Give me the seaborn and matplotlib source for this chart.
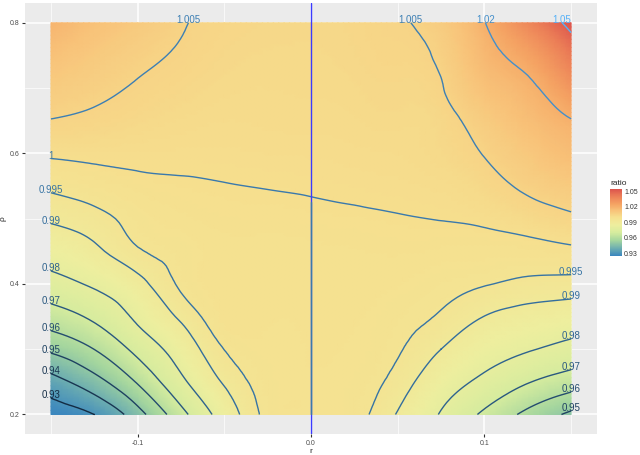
import matplotlib
matplotlib.use("Agg")
import matplotlib.pyplot as plt
import matplotlib.colors as mcolors
import matplotlib.tri as mtri
import seaborn as sns
import numpy as np

# grid: r across, rho down the rows
r_vals = [-0.15, -0.125, -0.1, -0.075, -0.05, -0.025, 0.0, 0.025, 0.05, 0.075, 0.1, 0.125, 0.15]
rho_vals = [0.2, 0.25, 0.3, 0.35, 0.4, 0.45, 0.5, 0.55, 0.6, 0.65, 0.7, 0.75, 0.8]

ratio_rho020 = [0.925, 0.930, 0.946, 0.9667, 0.9847, 0.9963, 0.9972, 0.9966, 0.9895, 0.9793, 0.9682, 0.9575, 0.948]
ratio_rho025 = [0.9362, 0.9461, 0.961, 0.9778, 0.9908, 0.9968, 0.9974, 0.997, 0.9931, 0.9848, 0.9778, 0.9706, 0.9649]
ratio_rho030 = [0.9519, 0.9601, 0.9729, 0.9848, 0.9951, 0.9972, 0.9976, 0.9974, 0.9955, 0.990, 0.9843, 0.9807, 0.977]
ratio_rho035 = [0.9654, 0.972, 0.9818, 0.9912, 0.9978, 0.9978, 0.9978, 0.9977, 0.9966, 0.9944, 0.9899, 0.9874, 0.9859]
ratio_rho040 = [0.9765, 0.9813, 0.9877, 0.9958, 0.9978, 0.9979, 0.998, 0.9981, 0.9976, 0.9965, 0.9953, 0.9938, 0.9932]
ratio_rho045 = [0.9845, 0.9885, 0.9944, 0.9968, 0.998, 0.9981, 0.9983, 0.9985, 0.9987, 0.9983, 0.9981, 0.9982, 0.999]
ratio_rho050 = [0.9909, 0.9933, 0.9967, 0.9982, 0.999, 0.9991, 0.9993, 0.9995, 0.9998, 1.0001, 1.0007, 1.0022, 1.004]
ratio_rho055 = [0.996, 0.9976, 0.999, 0.9996, 0.9999, 1.0001, 1.0003, 1.0006, 1.0009, 1.0013, 1.0029, 1.0062, 1.0091]
ratio_rho060 = [1.0007, 1.001, 1.001, 1.0009, 1.0009, 1.0011, 1.0012, 1.0014, 1.0016, 1.0025, 1.0053, 1.010, 1.0143]
ratio_rho065 = [1.0048, 1.0039, 1.0028, 1.002, 1.0016, 1.0017, 1.0018, 1.002, 1.0023, 1.003, 1.0082, 1.0139, 1.0195]
ratio_rho070 = [1.0085, 1.0065, 1.0045, 1.0032, 1.0023, 1.0021, 1.0022, 1.0025, 1.003, 1.0046, 1.0125, 1.0178, 1.0302]
ratio_rho075 = [1.0128, 1.0095, 1.0065, 1.0044, 1.003, 1.0025, 1.0025, 1.003, 1.0038, 1.0063, 1.0161, 1.0249, 1.0414]
ratio_rho080 = [1.018, 1.013, 1.0095, 1.0055, 1.0037, 1.003, 1.0028, 1.0033, 1.0045, 1.0085, 1.0196, 1.0362, 1.054]

levels = [0.93, 0.94, 0.95, 0.96, 0.97, 0.98, 0.99, 0.995, 1.0, 1.005, 1.02, 1.05]
bar_ticks = [0.93, 0.96, 0.99, 1.02, 1.05]

ratio = np.array([ratio_rho020, ratio_rho025, ratio_rho030, ratio_rho035, ratio_rho040,
                  ratio_rho045, ratio_rho050, ratio_rho055, ratio_rho060, ratio_rho065,
                  ratio_rho070, ratio_rho075, ratio_rho080])

sns.set_theme(style="darkgrid", rc={"axes.facecolor": "#EBEBEB", "grid.color": "white"})
plt.rcParams["font.family"] = ["Liberation Sans", "DejaVu Sans"]

fig = plt.figure(figsize=(6.4, 4.55), dpi=100)
ax = fig.add_axes([0.039, 0.046, 0.894, 0.947])

vmin, vmax = ratio.min(), ratio.max()
# spectral-like fill, anchored on ratio values
fill_nodes = [(0.925, "#3A86BE"), (0.94, "#6EAFB0"), (0.955, "#A5D69E"), (0.97, "#D6EC9E"),
              (0.985, "#EEEE9E"), (1.0, "#F6DF8E"), (1.012, "#F8C47A"), (1.025, "#F5A363"),
              (1.04, "#EC7F57"), (1.054, "#DC544D")]
fill_cmap = mcolors.LinearSegmentedColormap.from_list(
    "ratio", [((v - vmin) / (vmax - vmin), c) for v, c in fill_nodes])
line_cmap = sns.blend_palette(["#132B43", "#56B1F7"], as_cmap=True)

# smooth surface through the grid points (matplotlib's cubic tri refiner)
R, RHO = np.meshgrid(r_vals, rho_vals)
tri = mtri.Triangulation(R.ravel(), RHO.ravel())
interp = mtri.CubicTriInterpolator(tri, ratio.ravel(), kind="min_E")
fine_tri, fine_ratio = mtri.UniformTriRefiner(tri).refine_field(
    ratio.ravel(), triinterpolator=interp, subdiv=3)

mesh = ax.tripcolor(fine_tri, fine_ratio, shading="gouraud", cmap=fill_cmap,
                    vmin=vmin, vmax=vmax, zorder=1)

line_norm = mcolors.Normalize(vmin=min(levels), vmax=max(levels))
cs = ax.tricontour(fine_tri, fine_ratio, levels=levels, cmap=line_cmap, norm=line_norm,
                   linewidths=1.0, zorder=2)

ax.axvline(0, color="#3B3BFF", lw=1.0, zorder=3)

# label each contour piece at its highest end
for level, path in zip(cs.levels, cs.get_paths()):
    col = line_cmap(line_norm(level))
    for seg in path.to_polygons(closed_only=False):
        if len(seg) < 2:
            continue
        top = seg[np.argmax(seg[:, 1])]
        ax.annotate(f"{level:g}", (top[0], top[1]), xytext=(0, 2), textcoords="offset points",
                    color=col, ha="center", va="center", fontsize=7, zorder=4)
        if level == 1.0:
            # the ratio sits at 1 along r = 0 below the crossing of the 1 contour
            order = np.argsort(seg[:, 0])
            y0 = np.interp(0.0, seg[order, 0], seg[order, 1])
            ax.plot([0, 0], [min(rho_vals), y0], color=col, lw=1.0, zorder=3.5)

ax.set_xlim(-0.165, 0.165)
ax.set_ylim(0.17, 0.83)
ax.set_xticks([-0.1, 0.0, 0.1])
ax.set_xticklabels(["-0.1", "0.0", "0.1"])
ax.set_xticks([-0.15, -0.05, 0.05, 0.15], minor=True)
ax.set_yticks([0.2, 0.4, 0.6, 0.8])
ax.set_yticklabels(["0.2", "0.4", "0.6", "0.8"])
ax.set_yticks([0.3, 0.5, 0.7], minor=True)
ax.grid(which="major", color="white", lw=1.1)
ax.grid(which="minor", color="white", lw=0.5)
ax.tick_params(which="major", bottom=True, left=True, length=2.5, width=0.8, color="#333333",
               labelsize=5, labelcolor="#4D4D4D", pad=1.5)
ax.tick_params(which="minor", length=0)
for s in ax.spines.values():
    s.set_visible(False)
ax.set_xlabel("r", fontsize=6, labelpad=1)
ax.set_ylabel("ρ", fontsize=6, labelpad=2)

cax = fig.add_axes([610 / 640, 1 - 256 / 455, 12 / 640, 67 / 455])
cb = fig.colorbar(mesh, cax=cax, ticks=bar_ticks)
cb.outline.set_visible(False)
cax.grid(False)
cax.tick_params(length=0, labelsize=5, pad=1.5, labelcolor="#333333")
cb.set_ticklabels([f"{t:.2f}" for t in bar_ticks])
cax.set_title("ratio", loc="left", fontsize=6, pad=3)

fig.savefig("out.png", dpi=100)
